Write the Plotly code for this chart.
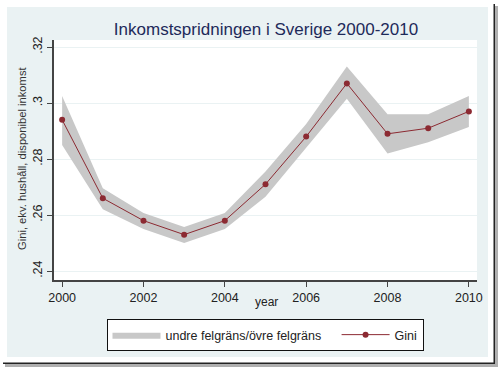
import plotly.graph_objects as go

years = [2000, 2001, 2002, 2003, 2004, 2005, 2006, 2007, 2008, 2009, 2010]
gini = [0.294, 0.266, 0.258, 0.253, 0.258, 0.271, 0.288, 0.307, 0.289, 0.291, 0.297]
upper = [0.3025, 0.2696, 0.2607, 0.2557, 0.2607, 0.2755, 0.2925, 0.313, 0.296, 0.296, 0.3025]
lower = [0.285, 0.2621, 0.255, 0.250, 0.255, 0.2665, 0.2840, 0.3015, 0.282, 0.286, 0.2914]
y_ticks = [0.24, 0.26, 0.28, 0.30, 0.32]
y_ticklabels = [".24", ".26", ".28", ".3", ".32"]
x_ticks = [2000, 2002, 2004, 2006, 2008, 2010]

W, H = 499, 369
L, R, T, B = 54, 477, 40, 280
FONT = "Liberation Sans, Arial, sans-serif"


def px(x):
    return (x - L) / (R - L)


def py(y):
    return (B - y) / (B - T)


def rect(x0, y0, x1, y1, color):
    return dict(type="rect", xref="paper", yref="paper", x0=px(x0), x1=px(x1),
                y0=py(y1), y1=py(y0), fillcolor=color, line=dict(width=0), layer="above")


fig = go.Figure()
fig.add_trace(go.Scatter(
    x=years + years[::-1], y=upper + lower[::-1], fill="toself",
    fillcolor="rgb(200,200,200)", line=dict(width=0, color="rgb(200,200,200)"),
    mode="lines", name="undre felgräns/övre felgräns\u00a0\u00a0\u00a0", hoverinfo="skip"))
fig.add_trace(go.Scatter(
    x=years, y=gini, mode="lines+markers", name="Gini",
    line=dict(color="#8c2a32", width=1),
    marker=dict(color="#8c2a32", size=6)))

shapes = [
    # white outer frame strips (outside the light panel)
    rect(0, 0, W, 7, "white"),
    rect(0, 0, 7, H, "white"),
    rect(488, 0, W, H, "white"),
    rect(0, 357, W, H, "white"),
    # shadow
    rect(495, 6, 498, 367, "rgb(175,175,175)"),
    rect(5, 364, 498, 367, "rgb(175,175,175)"),
    # black frame edges
    rect(493.5, 4, 495, 364, "#222222"),
    rect(3, 362.5, 495, 364, "#222222"),
]

annotations = [
    dict(text="Gini, ekv. hushåll, disponibel inkomst", xref="paper", yref="paper",
         x=px(22), y=py(158), textangle=-90, showarrow=False,
         font=dict(size=11.2, color="#333333", family=FONT),
         xanchor="center", yanchor="middle"),
    dict(text="year", xref="paper", yref="paper", x=px(266), y=py(302), showarrow=False,
         font=dict(size=12, color="#222222", family=FONT),
         xanchor="center", yanchor="middle"),
]

fig.update_layout(
    width=W, height=H,
    margin=dict(l=L, r=W - R, t=T, b=H - B, autoexpand=False),
    paper_bgcolor="#eaf2f3", plot_bgcolor="white",
    title=dict(text="Inkomstspridningen i Sverige 2000-2010", x=px(266), xref="paper",
               y=1 - 29 / H, yref="container", xanchor="center", yanchor="middle",
               font=dict(size=17, color="#1e2a5a", family=FONT)),
    font=dict(family=FONT, size=12, color="#222222"),
    showlegend=True,
    legend=dict(orientation="h", x=px(265), y=py(319), xanchor="center", yanchor="top",
                bgcolor="white", bordercolor="#111", borderwidth=1,
                itemwidth=48,
                font=dict(size=12.5, color="#222", family=FONT)),
    shapes=shapes, annotations=annotations,
    xaxis=dict(range=[1999.8, 2010.2], tickvals=x_ticks, ticks="outside", ticklen=5,
               tickcolor="#444", showline=True, linecolor="#444", linewidth=1.5,
               showgrid=False, zeroline=False, tickfont=dict(size=12.5, color="#222")),
    yaxis=dict(range=[0.2368, 0.3225], tickvals=y_ticks, ticktext=y_ticklabels,
               ticks="outside", ticklen=5, tickcolor="#444", showline=True,
               linecolor="#444", linewidth=1.5, showgrid=True, gridcolor="#eaf2f3",
               gridwidth=1, zeroline=False, tickangle=-90,
               tickfont=dict(size=12.5, color="#222")),
)

fig.write_html("out.html", config={"displayModeBar": False},
               post_script="document.body.style.margin='0';document.body.style.padding='0';")
